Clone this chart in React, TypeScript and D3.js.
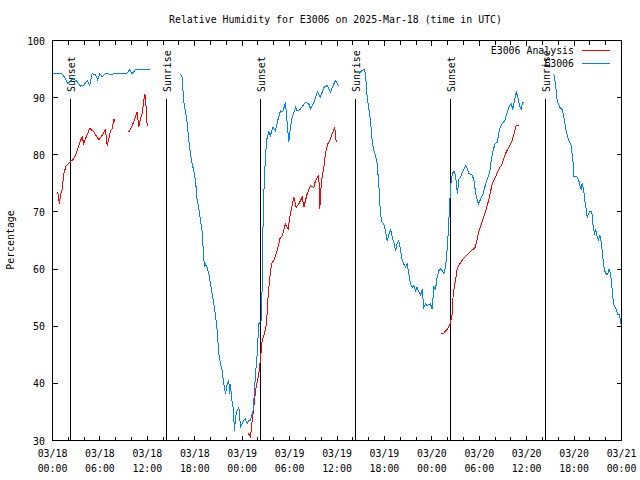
import React from "react";
import * as d3 from "d3";

// time in hours since 03/18 00:00 UTC, value in %
const analysisSeg1: [number, number][] = [[0.66,73.5],[0.88,71.4],[1.01,72.9],[1.22,74],[1.43,76.7],[1.73,78.1],[2.19,78.7],[2.7,79.3],[3.0,80.2],[3.33,81.6],[3.54,82.5],[3.76,83.1],[3.96,81.9],[4.26,83.1],[4.72,84.6],[5.23,84],[5.86,82.6],[6.29,83.4],[6.7,84.4],[6.92,81.6],[7.12,82.8],[7.34,84.2],[7.55,84.5],[7.76,86.3],[7.88,85.7]];
const analysisSeg2: [number, number][] = [[9.66,84],[10.08,85.1],[10.5,86.6],[10.71,87.5],[10.92,84.8],[11.13,86.3],[11.34,87.2],[11.55,89.5],[11.68,90.7],[11.8,89.2],[11.98,85.1]];
const analysisSeg3: [number, number][] = [[24.7,30.9],[24.84,31.2],[25.05,30.6],[25.27,33.5],[25.47,35.8],[25.69,38.7],[26.1,41.7],[26.3,44],[26.53,47.5],[26.83,48.7],[27.08,50.4],[27.25,54.5],[27.46,58],[27.71,60.9],[28.0,61.5],[28.43,63.2],[28.77,65.3],[29.07,65.9],[29.48,67.9],[29.82,67],[30.1,69.7],[30.53,72.6],[30.84,70.8],[31.17,71.4],[31.6,72.6],[31.8,70.8],[32.23,73.2],[32.65,74.6],[33.07,74.3],[33.28,75.5],[33.7,76.4],[33.83,70.5],[33.9,73.2],[34.12,76.1],[34.33,77.8],[34.54,80.2],[34.84,81.9],[35.18,82.8],[35.39,83.7],[35.72,84.8],[35.9,82.2]];
const analysisSeg4: [number, number][] = [[49.12,48.7],[49.5,48.8],[49.96,49.5],[50.3,50.4],[50.6,52.2],[50.7,55.7],[51.0,58],[51.2,60],[51.4,60.6],[51.8,61.5],[52.4,62.4],[53.0,63.2],[53.5,63.8],[53.97,66.7],[54.4,68.5],[54.82,70.2],[55.24,72.3],[55.64,74.9],[56.05,76.1],[56.47,77.5],[56.9,78.4],[57.3,80.2],[57.74,81.3],[58.16,82.5],[58.47,84],[58.67,85.1],[59.0,85.2]];

const stationSeg1: [number, number][] = [[0.04,94.2],[1.2,94.2],[1.64,93.3],[1.94,92.4],[2.28,93],[2.7,93.3],[3.12,92.8],[3.54,92],[3.96,92.2],[4.39,93],[4.72,92.2],[5.02,94.2],[5.44,94],[5.73,93.1],[5.99,94.2],[6.29,93.6],[6.7,94.2],[7.34,94.1],[8.18,94.2],[9.45,94.3],[9.78,94.9],[10.08,94.2],[10.5,94.9],[10.92,95.0],[11.55,94.9],[12.27,95.0]];
const stationSeg2: [number, number][] = [[16.2,94.2],[16.4,93.6],[16.6,89.5],[16.8,87.7],[17.0,86],[17.25,82.5],[17.46,80.2],[17.67,78.4],[17.88,77.2],[18.1,75.5],[18.3,72],[18.5,70.8],[18.73,68.5],[18.94,66.5],[19.07,63.5],[19.23,60.3],[19.36,60.9],[19.57,60.3],[19.78,59.2],[19.99,57.4],[20.2,55.7],[20.41,53.9],[20.6,52.2],[20.8,49.8],[21.04,45.2],[21.26,43.4],[21.47,42.2],[21.67,39.9],[21.9,38.2],[22.1,39.9],[22.3,40.5],[22.43,38.2],[22.5,39.9],[22.7,37],[22.86,35.8],[23.03,31.7],[23.16,34.1],[23.37,35.2],[23.58,35.8],[23.79,32.3],[24.0,32.9],[24.2,33.5],[24.4,33.8],[24.64,32.9],[24.84,33.5],[25.05,33.5],[25.27,34.7],[25.4,35.2],[25.69,41.7],[25.9,45.2],[26.1,50.4],[26.4,51],[26.53,56.8],[26.66,69.7],[26.83,76.7],[27.08,82.5],[27.37,84],[27.58,83.4],[27.88,84.8],[28.2,84.2],[28.5,86],[28.85,87.7],[29.14,87.5],[29.48,89.2],[29.7,85.4],[29.9,82.2],[30.1,84.8],[30.33,86.6],[30.75,88.3],[30.96,87.7],[31.38,88],[32.0,89.2],[32.43,88.9],[32.65,88],[33.07,89.2],[33.5,91],[33.9,90.1],[34.33,91.8],[34.76,92.1],[35.2,91],[35.4,91.8],[35.8,93],[36.2,92.1]];
const stationSeg3: [number, number][] = [[38.76,94.2],[39.19,94.75],[39.4,95.0],[39.6,94.2],[39.82,90.1],[40.0,88.3],[40.24,86],[40.45,82.5],[40.66,80.7],[40.87,79.9],[41.08,78.4],[41.29,74.9],[41.5,69.7],[41.7,68.2],[41.92,67.9],[42.13,66.7],[42.35,65],[42.55,65.9],[42.77,67],[42.98,65.6],[43.19,64.7],[43.4,63.2],[43.6,64.4],[43.82,65],[44.03,63.5],[44.25,61.5],[44.45,60.9],[44.67,60.3],[44.87,60.9],[45.08,59.2],[45.3,57.4],[45.5,56.8],[45.72,57.1],[45.93,56.2],[46.14,56.8],[46.35,56],[46.57,55.4],[46.78,56.5],[46.98,53.3],[47.2,53.9],[47.4,53.6],[47.83,53.9],[48.04,53],[48.26,56.8],[48.47,56.5],[48.67,58.6],[48.88,59.7],[49.1,60],[49.3,59.7],[49.52,59.2],[49.73,60.3],[49.86,62.1],[50.02,65],[50.15,68.5],[50.28,72],[50.41,74.9],[50.6,76.7],[50.8,77.2],[51.0,76.4],[51.23,73.2],[51.44,75.8],[51.65,76.1],[51.86,77],[52.28,78.1],[52.5,77.5],[52.7,76.7],[53.13,76.4],[53.33,75.5],[53.55,73.2],[53.88,71.4],[54.2,72.3],[54.48,73.2],[54.82,74.9],[55.16,76.4],[55.33,77],[55.54,79.3],[55.75,80.7],[56.0,81.9],[56.27,82.2],[56.57,84.5],[56.9,85.4],[57.24,86],[57.54,87.5],[57.83,88.6],[58.04,88.9],[58.25,88],[58.47,89.5],[58.67,91],[58.89,90.1],[59.1,88.6],[59.3,88],[59.43,88.9],[59.55,89.2]];
const stationSeg4: [number, number][] = [[63.43,94.2],[63.65,92.4],[63.86,89.5],[64.19,88.3],[64.5,87.9],[64.7,86.6],[65.0,84.2],[65.33,82.5],[65.63,81.6],[65.89,78.4],[65.96,76.2],[66.39,76.1],[66.6,75.5],[66.72,74.6],[66.9,74],[67.02,75.1],[67.23,73.75],[67.35,72],[67.53,70.5],[67.66,69.1],[67.78,69.5],[67.99,70],[68.24,70],[68.42,67.3],[68.58,66.2],[68.75,66.9],[68.92,65.6],[69.09,65.1],[69.25,65.9],[69.43,64.7],[69.56,63.25],[69.72,60.9],[69.97,59.2],[70.27,59.05],[70.39,60.05],[70.6,59.2],[70.69,58.3],[70.86,55.9],[70.98,53.8],[71.24,53.3],[71.4,52.7],[71.49,52],[71.74,52],[71.87,51],[71.96,50.1]];

const sunEvents: { h: number; label: string }[] = [
  { h: 2.19, label: "Sunset" },
  { h: 14.34, label: "Sunrise" },
  { h: 26.23, label: "Sunset" },
  { h: 38.3, label: "Sunrise" },
  { h: 50.27, label: "Sunset" },
  { h: 62.34, label: "Sunrise" },
];

const xTickDates = ["03/18", "03/18", "03/18", "03/18", "03/19", "03/19", "03/19", "03/19", "03/20", "03/20", "03/20", "03/20", "03/21"];
const xTickTimes = ["00:00", "06:00", "12:00", "18:00", "00:00", "06:00", "12:00", "18:00", "00:00", "06:00", "12:00", "18:00", "00:00"];
const yTicks = [30, 40, 50, 60, 70, 80, 90, 100];

const RED = "#ff0000";
const BLUE = "#0080ff";
const FONT = "'DejaVu Sans Mono', 'Liberation Mono', monospace";

export default function App() {
  const W = 640, H = 480;
  const x = d3.scaleLinear().domain([0, 72]).range([52.5, 621.5]);
  const y = d3.scaleLinear().domain([30, 100]).range([440.5, 40.5]);
  const line = d3.line<[number, number]>().x((d) => x(d[0])).y((d) => y(d[1]));
  const minorTicks = d3.range(0, 73, 2);
  const fs = 9.9;

  return (
    <svg width={W} height={H} style={{ position: "absolute", left: 0, top: 0, background: "#fff" }} fontFamily={FONT}>
      <rect x={0} y={0} width={W} height={H} fill="#fff" />
      <text x={335.5} y={23} fontSize={fs} textAnchor="middle">Relative Humidity for E3006 on 2025-Mar-18 (time in UTC)</text>
      {/* y ticks */}
      {yTicks.map((t) => (
        <g key={"y" + t}>
          <line x1={x(0)} x2={x(0) + 5} y1={y(t)} y2={y(t)} stroke="#000" shapeRendering="crispEdges" />
          <line x1={x(72)} x2={x(72) - 5} y1={y(t)} y2={y(t)} stroke="#000" shapeRendering="crispEdges" />
          <text x={45} y={y(t) + 4} fontSize={fs} textAnchor="end">{t}</text>
        </g>
      ))}
      {/* x ticks */}
      {minorTicks.map((t) => {
        const len = t % 6 === 0 ? 5 : 4;
        return (
          <g key={"x" + t}>
            <line x1={x(t)} x2={x(t)} y1={y(30)} y2={y(30) - len} stroke="#000" shapeRendering="crispEdges" />
            <line x1={x(t)} x2={x(t)} y1={y(100)} y2={y(100) + len} stroke="#000" shapeRendering="crispEdges" />
          </g>
        );
      })}
      {xTickDates.map((d, i) => (
        <g key={"xl" + i}>
          <text x={x(i * 6)} y={457} fontSize={fs} textAnchor="middle">{d}</text>
          <text x={x(i * 6)} y={472} fontSize={fs} textAnchor="middle">{xTickTimes[i]}</text>
        </g>
      ))}
      <text transform="translate(14,240) rotate(-90)" fontSize={fs} textAnchor="middle">Percentage</text>
      {/* sun events */}
      {sunEvents.map((e, i) => (
        <g key={"s" + i}>
          <line x1={Math.round(x(e.h)) + 0.5} x2={Math.round(x(e.h)) + 0.5} y1={99} y2={440} stroke="#000" strokeWidth={1.3} shapeRendering="crispEdges" />
          <text transform={`translate(${Math.round(x(e.h)) + 4.5},92) rotate(-90)`} fontSize={fs}>{e.label}</text>
        </g>
      ))}
      {/* data */}
      {[analysisSeg1, analysisSeg2, analysisSeg3, analysisSeg4].map((s, i) => (
        <path key={"a" + i} d={line(s) || ""} fill="none" stroke={RED} strokeWidth={1} shapeRendering="crispEdges" />
      ))}
      {[stationSeg1, stationSeg2, stationSeg3, stationSeg4].map((s, i) => (
        <path key={"b" + i} d={line(s) || ""} fill="none" stroke={BLUE} strokeWidth={1} shapeRendering="crispEdges" />
      ))}
      {/* legend */}
      <text x={574} y={54} fontSize={fs} textAnchor="end">E3006 Analysis</text>
      <line x1={582} x2={610} y1={50.5} y2={50.5} stroke={RED} shapeRendering="crispEdges" />
      <text x={574} y={67} fontSize={fs} textAnchor="end">E3006</text>
      <line x1={582} x2={610} y1={63.5} y2={63.5} stroke={BLUE} shapeRendering="crispEdges" />
      {/* border */}
      <rect x={x(0)} y={y(100)} width={x(72) - x(0)} height={y(30) - y(100)} fill="none" stroke="#000" shapeRendering="crispEdges" />
    </svg>
  );
}
